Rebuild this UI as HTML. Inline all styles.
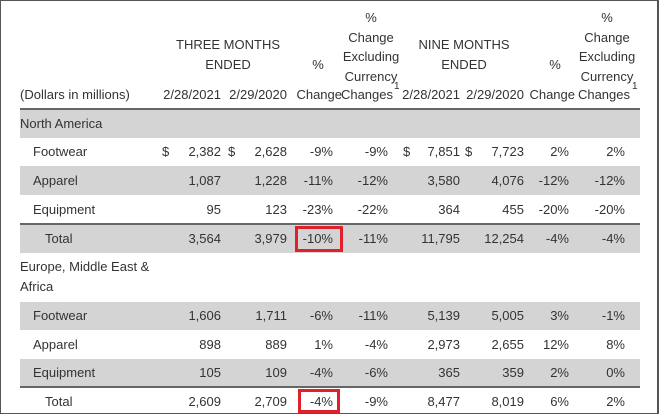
<!DOCTYPE html>
<html><head><meta charset="utf-8"><style>
body{margin:0;width:660px;height:414px;overflow:hidden;background:#fff;font-family:"Liberation Sans",Arial,sans-serif;font-size:13px;color:#333;position:relative}
.frame{position:absolute;left:0;top:0;width:656px;height:412px;border:1px solid #555;border-right:2px solid #555}
.band{position:absolute;left:20px;width:620px;background:#d4d4d4}
.line{position:absolute;left:20px;width:620px;height:2px;background:#666}
.t{position:absolute;white-space:nowrap;line-height:16px}
.r{position:absolute;white-space:nowrap;line-height:16px;transform:translateX(-100%)}
.c{position:absolute;white-space:nowrap;line-height:16px;transform:translateX(-50%);text-align:center}
.box{position:absolute;border:3px solid #e0202a;box-sizing:border-box}
.sup{position:absolute;font-size:10px;line-height:10px}
</style></head><body>
<div class="frame"></div>
<div class="band" style="top:110px;height:28px"></div>
<div class="band" style="top:166px;height:29px"></div>
<div class="band" style="top:225px;height:28px"></div>
<div class="band" style="top:302px;height:28px"></div>
<div class="band" style="top:359px;height:28px"></div>
<div class="line" style="top:108px"></div>
<div class="line" style="top:223px"></div>
<div class="line" style="top:386px"></div>

<div class="c" style="left:228px;top:37px">THREE MONTHS</div>
<div class="c" style="left:228px;top:57px">ENDED</div>
<div class="c" style="left:464px;top:37px">NINE MONTHS</div>
<div class="c" style="left:464px;top:57px">ENDED</div>
<div class="c" style="left:318px;top:57px">%</div>
<div class="c" style="left:555px;top:57px">%</div>
<div class="c" style="left:371px;top:8px;line-height:19.5px">%<br>Change<br>Excluding<br>Currency</div>
<div class="c" style="left:607px;top:8px;line-height:19.5px">%<br>Change<br>Excluding<br>Currency</div>
<div class="t" style="left:20px;top:87px">(Dollars in millions)</div>
<div class="r" style="left:221px;top:87px">2/28/2021</div>
<div class="r" style="left:287px;top:87px">2/29/2020</div>
<div class="r" style="left:342px;top:87px">Change</div>
<div class="r" style="left:393px;top:87px">Changes</div>
<div class="sup" style="left:394px;top:82px">1</div>
<div class="r" style="left:460px;top:87px">2/28/2021</div>
<div class="r" style="left:524px;top:87px">2/29/2020</div>
<div class="r" style="left:575px;top:87px">Change</div>
<div class="r" style="left:630px;top:87px">Changes</div>
<div class="sup" style="left:632px;top:82px">1</div>

<div class="t" style="left:20px;top:116px">North America</div>
<div class="t" style="left:20px;top:259px">Europe, Middle East &amp;</div>
<div class="t" style="left:20px;top:279px">Africa</div>

<div id="rows"></div>
<div class="box" style="left:295px;top:226px;width:48px;height:26px"></div>
<div class="box" style="left:298px;top:389px;width:42px;height:24px"></div>

<div class="t" style="left:162px;top:144px">$</div>
<div class="t" style="left:228px;top:144px">$</div>
<div class="t" style="left:403px;top:144px">$</div>
<div class="t" style="left:465px;top:144px">$</div>
<script>
var cols=[221,287,333,388,460,524,569,625];
var rows=[
[144,"Footwear",33,["2,382","2,628","-9%","-9%","7,851","7,723","2%","2%"]],
[173,"Apparel",33,["1,087","1,228","-11%","-12%","3,580","4,076","-12%","-12%"]],
[202,"Equipment",33,["95","123","-23%","-22%","364","455","-20%","-20%"]],
[231,"Total",45,["3,564","3,979","-10%","-11%","11,795","12,254","-4%","-4%"]],
[308,"Footwear",33,["1,606","1,711","-6%","-11%","5,139","5,005","3%","-1%"]],
[337,"Apparel",33,["898","889","1%","-4%","2,973","2,655","12%","8%"]],
[365,"Equipment",33,["105","109","-4%","-6%","365","359","2%","0%"]],
[394,"Total",45,["2,609","2,709","-4%","-9%","8,477","8,019","6%","2%"]]];
var h="";
rows.forEach(function(r){h+='<div class="t" style="left:'+r[2]+'px;top:'+r[0]+'px">'+r[1]+'</div>';
r[3].forEach(function(v,i){h+='<div class="r" style="left:'+cols[i]+'px;top:'+r[0]+'px">'+v+'</div>';});});
document.getElementById("rows").outerHTML=h;
</script>
</body></html>
